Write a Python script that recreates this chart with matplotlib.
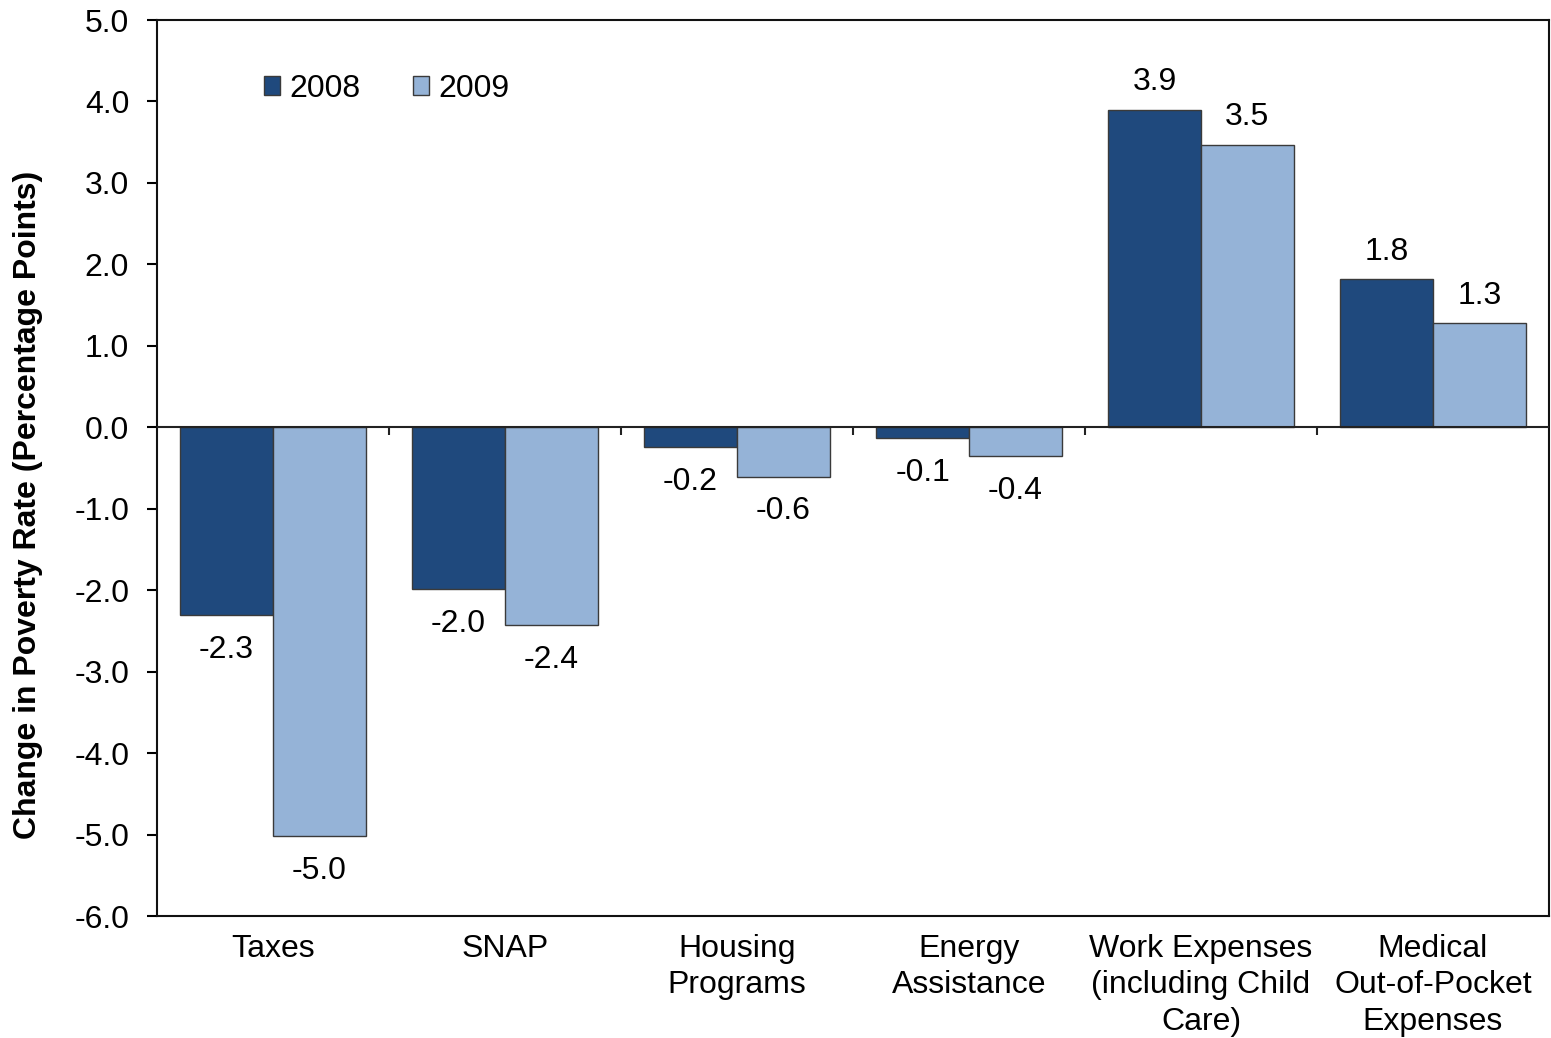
import matplotlib
matplotlib.use("Agg")
import matplotlib.pyplot as plt
import numpy as np

categories = ["Taxes", "SNAP", "Housing\nPrograms", "Energy\nAssistance",
              "Work Expenses\n(including Child\nCare)", "Medical\nOut-of-Pocket\nExpenses"]
series_names = ["2008", "2009"]
values_2008 = [-2.31, -1.99, -0.245, -0.135, 3.90, 1.82]
values_2009 = [-5.02, -2.43, -0.61, -0.356, 3.47, 1.28]
yticks = [5.0, 4.0, 3.0, 2.0, 1.0, 0.0, -1.0, -2.0, -3.0, -4.0, -5.0, -6.0]

plt.rcParams['font.family'] = ['Liberation Sans', 'DejaVu Sans']
FS = 23

fig = plt.figure(figsize=(15.51, 10.38), dpi=100)
ax = fig.add_axes([0.1012, 0.1175, 0.8975, 0.8632])

x = np.arange(len(categories))
w = 0.4
c1, c2 = "#1F497D", "#95B3D7"
b1 = ax.bar(x - w/2, values_2008, w, color=c1, edgecolor="#3a3a3a", linewidth=1, label=series_names[0], zorder=2)
b2 = ax.bar(x + w/2, values_2009, w, color=c2, edgecolor="#3a3a3a", linewidth=1, label=series_names[1], zorder=2)

for bars, vals in ((b1, values_2008), (b2, values_2009)):
    for rect, v in zip(bars, vals):
        cx = rect.get_x() + rect.get_width() / 2
        if v >= 0:
            ax.annotate(f"{v:.1f}", (cx, v), xytext=(0, 9), textcoords="offset points",
                        ha="center", va="bottom", fontsize=FS)
        else:
            ax.annotate(f"{v:.1f}", (cx, v), xytext=(0, -14), textcoords="offset points",
                        ha="center", va="top", fontsize=FS)

ax.set_xlim(-0.5, len(categories) - 0.5)
ax.set_ylim(-6.0, 5.0)
ax.set_yticks(yticks)
ax.set_yticklabels([f"{t:.1f}" for t in yticks])
ax.tick_params(axis="y", direction="out", length=7, width=1.5, pad=13, labelsize=FS)
ax.set_xticks(x)
ax.set_xticklabels(categories, fontsize=FS, linespacing=1.27)
ax.tick_params(axis="x", length=0, pad=13)

ax.axhline(0, color="#222222", linewidth=1.5, zorder=3)
ax.vlines(np.arange(len(categories) - 1) + 0.5, -0.1, 0, color="#222222", linewidth=1.5, zorder=3)

for s in ax.spines.values():
    s.set_linewidth(1.5)
    s.set_color("#111111")

fig.text(28 / 1551, 1 - 505 / 1038, "Change in Poverty Rate (Percentage Points)", rotation=90,
         ha="center", va="center", fontsize=FS, fontweight="bold")

leg = ax.legend(loc="upper left", bbox_to_anchor=(0.056, 0.972), ncol=2, frameon=False, fontsize=FS,
                handlelength=0.5, handleheight=0.5, handletextpad=0.3, columnspacing=1.64)

fig.savefig("out.png", dpi=100)
